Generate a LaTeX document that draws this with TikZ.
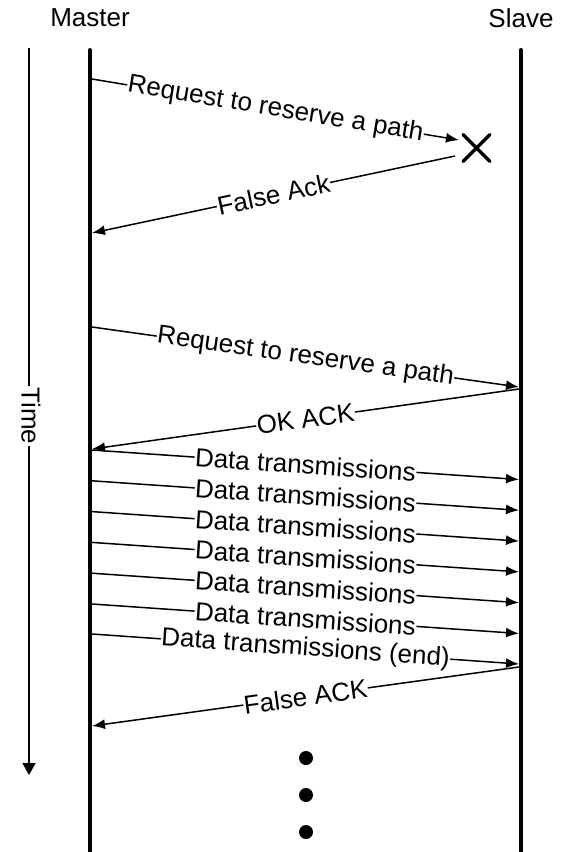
\documentclass[tikz,border=0pt]{standalone}
\usepackage{fontspec}
\setmainfont{Liberation Sans}
\usetikzlibrary{arrows.meta}

\begin{document}
\begin{tikzpicture}[x=1pt,y=-1pt,line width=1.5pt,>={Latex[length=13pt,width=10pt]},
  font=\fontsize{26}{30}\selectfont]
\tikzset{life/.style={line width=4pt,line cap=round},
  msg/.style={line width=1.5pt,->},
  lbl/.style={fill=white,inner sep=0.6pt,sloped,midway},
  tick/.style={line width=3.4pt,line cap=round},
  dot/.style={circle,fill,inner sep=0pt,minimum size=14pt}}
\useasboundingbox (0,0) rectangle (566,852);
% ================= lifelines =================
\node (master) at (90,18) {Master};
\node (slave) at (521,18) {Slave};
\coordinate (mtop) at (90,50);
\coordinate (mbot) at (90,860);
\coordinate (stop) at (521,50);
\coordinate (sbot) at (521,860);
\draw[life] (mtop) -- (mbot);
\draw[life] (stop) -- (sbot);
% time axis
\coordinate (ttop) at (29,48);
\coordinate (tbot) at (29,775);
\draw[line width=1.6pt,-{Triangle[length=12pt,width=13pt]}] (ttop) -- (tbot);
\node[fill=white,inner sep=1.5pt,rotate=-90] (time) at (31,416) {Time};
% ================= first request (lost) =================
\coordinate (r1a) at (92,79);
\coordinate (r1b) at (459,140);
\draw[msg] (r1a) -- node[lbl] {Request to reserve a path} (r1b);
\coordinate (lost) at (476.5,148);
\draw[tick] ([shift={(-13.5,-13.5)}]lost) -- ([shift={(13.5,13.5)}]lost);
\draw[tick] ([shift={(-13.5,13.5)}]lost) -- ([shift={(13.5,-13.5)}]lost);
\coordinate (f1a) at (455,156);
\coordinate (f1b) at (92,233);
\draw[msg] (f1a) -- node[lbl] {False Ack} (f1b);
% ================= second request =================
\coordinate (r2a) at (92,327);
\coordinate (r2b) at (519,387);
\draw[msg] (r2a) -- node[lbl] {Request to reserve a path} (r2b);
\coordinate (oka) at (519,389);
\coordinate (okb) at (92,449);
\draw[msg] (oka) -- node[lbl] {OK ACK} (okb);
% data: six ordinary packets
\foreach \i in {0,...,5}{
  \coordinate (ds\i) at (92,450+30.8*\i);
  \coordinate (de\i) at (519,479.5+30.8*\i);
  \draw[msg] (ds\i) -- node[lbl] {Data transmissions} (de\i);
}
% last packet and reply
\coordinate (dea) at (92,634);
\coordinate (deb) at (519,664);
\draw[msg] (dea) -- node[lbl] {Data transmissions (end)} (deb);
\coordinate (f2a) at (519,667);
\coordinate (f2b) at (92,726);
\draw[msg] (f2a) -- node[lbl] {False ACK} (f2b);
% ---------- continuation ----------
\node[dot] (d1) at (306,758) {};
\node[dot] (d2) at (306,795) {};
\node[dot] (d3) at (306,832) {};
\end{tikzpicture}
\end{document}
